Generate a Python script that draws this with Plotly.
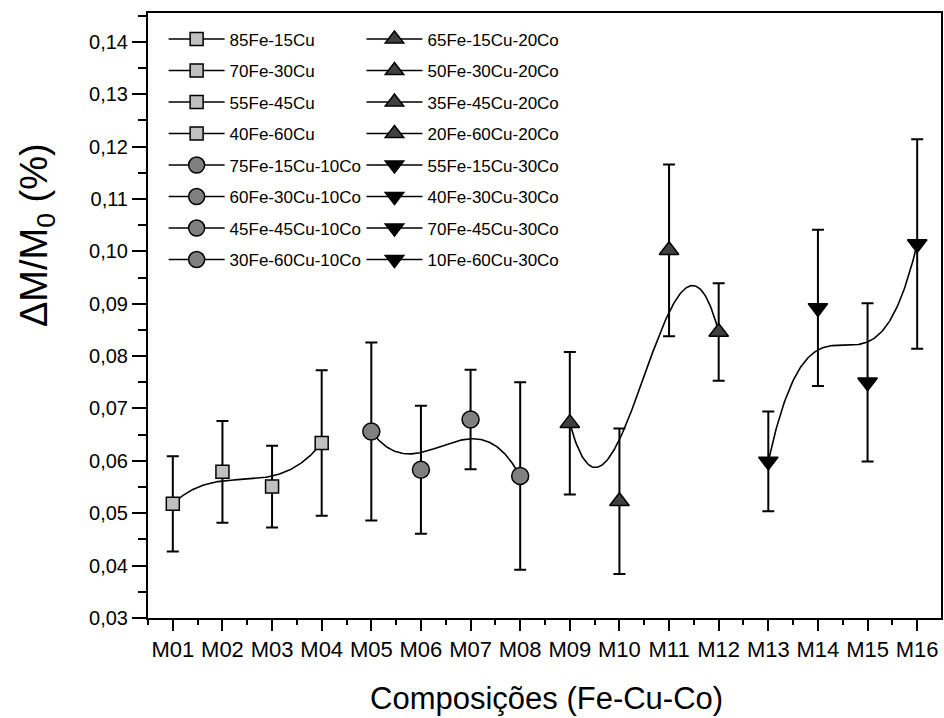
import numpy as np
import plotly.graph_objects as go

# Sample codes on the x axis
samples = ["M01", "M02", "M03", "M04", "M05", "M06", "M07", "M08",
           "M09", "M10", "M11", "M12", "M13", "M14", "M15", "M16"]

# Nominal composition of each sample (legend text)
compositions = ["85Fe-15Cu", "70Fe-30Cu", "55Fe-45Cu", "40Fe-60Cu",
                "75Fe-15Cu-10Co", "60Fe-30Cu-10Co", "45Fe-45Cu-10Co", "30Fe-60Cu-10Co",
                "65Fe-15Cu-20Co", "50Fe-30Cu-20Co", "35Fe-45Cu-20Co", "20Fe-60Cu-20Co",
                "55Fe-15Cu-30Co", "40Fe-30Cu-30Co", "70Fe-45Cu-30Co", "10Fe-60Cu-30Co"]

# Relative mass change (%) and its standard deviation
mass_change = [0.0518, 0.0579, 0.0551, 0.0634,
               0.0656, 0.0583, 0.0679, 0.0571,
               0.0672, 0.0523, 0.1002, 0.0846,
               0.0599, 0.0892, 0.0750, 0.1014]
mass_change_err = [0.0091, 0.0097, 0.0078, 0.0139,
                   0.0170, 0.0122, 0.0095, 0.0179,
                   0.0136, 0.0139, 0.0164, 0.0093,
                   0.0095, 0.0149, 0.0151, 0.0200]

# Cobalt series: 0, 10, 20 and 30 % Co, four samples each
series_size = 4

x_pos = np.arange(1, len(samples) + 1)

# Marker style per cobalt series
series_styles = [
    dict(symbol="square", size=13, color="#c0c0c0"),
    dict(symbol="circle", size=17, color="#808080"),
    dict(symbol="triangle-up", size=17, color="#404040"),
    dict(symbol="triangle-down", size=17, color="#000000"),
]


def smooth_curve(xs, ys, tension=0.65, n=160):
    """Cubic Bezier through the end points, with the inner data points
    pushed away from their neighbours' mean as control points."""
    y0, y1, y2, y3 = ys
    c1 = y1 + tension * (y1 - (y0 + y2) / 2)
    c2 = y2 + tension * (y2 - (y1 + y3) / 2)
    t = np.linspace(0, 1, n)
    b0, b1, b2, b3 = (1 - t) ** 3, 3 * (1 - t) ** 2 * t, 3 * (1 - t) * t ** 2, t ** 3
    xx = b0 * xs[0] + b1 * xs[1] + b2 * xs[2] + b3 * xs[3]
    yy = b0 * y0 + b1 * c1 + b2 * c2 + b3 * y3
    return xx, yy


fig = go.Figure()

# Smoothed trend line for each series
for g in range(len(samples) // series_size):
    sl = slice(g * series_size, (g + 1) * series_size)
    cx, cy = smooth_curve(x_pos[sl], mass_change[sl])
    fig.add_trace(go.Scatter(
        x=cx, y=cy, mode="lines", showlegend=False, hoverinfo="skip",
        line=dict(color="black", width=1.6),
    ))

# One trace per sample, with its error bar and legend entry
for i, name in enumerate(compositions):
    g = i // series_size
    st = series_styles[g]
    fig.add_trace(go.Scatter(
        x=[x_pos[i]], y=[mass_change[i]], name=name,
        mode="lines+markers",
        legend="legend" if g < 2 else "legend2",
        legendgroup=name,
        line=dict(color="black", width=1.6),
        marker=dict(symbol=st["symbol"], size=st["size"], color=st["color"],
                    line=dict(color="black", width=1.5)),
        error_y=dict(type="data", array=[mass_change_err[i]], visible=True,
                     color="black", thickness=2, width=6),
    ))

legend_common = dict(
    orientation="v", yanchor="top", xanchor="left",
    bgcolor="rgba(0,0,0,0)", borderwidth=0,
    font=dict(family="Liberation Sans, Arial, sans-serif", size=17, color="black"),
    itemwidth=56, tracegroupgap=6.4, itemclick=False,
)

fig.update_layout(
    width=944, height=718,
    margin=dict(l=148, r=1, t=13, b=100),
    paper_bgcolor="white", plot_bgcolor="white",
    separators=",.",
    font=dict(family="Liberation Sans, Arial, sans-serif", color="black"),
    legend=dict(x=0.0197, y=0.986, **legend_common),
    legend2=dict(x=0.2692, y=0.986, **legend_common),
    xaxis=dict(
        range=[0.5, 16.48], tickmode="array", tickvals=x_pos, ticktext=samples,
        showline=True, linecolor="black", linewidth=2, mirror=True,
        ticks="outside", ticklen=11, tickwidth=2, tickcolor="black",
        tickfont=dict(size=22), showgrid=False, zeroline=False,
        minor=dict(tickmode="array", tickvals=list(x_pos[:-1] + 0.5) + [0.5],
                   ticks="outside", ticklen=5, tickwidth=2, tickcolor="black",
                   showgrid=False),
    ),
    yaxis=dict(
        range=[0.03, 0.1455], tickmode="linear", tick0=0.03, dtick=0.01,
        tickformat=".2f",
        showline=True, linecolor="black", linewidth=2, mirror=True,
        ticks="outside", ticklen=14, tickwidth=2, tickcolor="black",
        tickfont=dict(size=20), showgrid=False, zeroline=False,
        minor=dict(dtick=0.005, ticks="outside", ticklen=8, tickwidth=2,
                   tickcolor="black", showgrid=False),
    ),
    annotations=[
        dict(text="ΔM/M<sub>0</sub> (%)", xref="paper", yref="paper",
             x=-0.14, y=0.633, xanchor="center", yanchor="middle",
             textangle=-90, showarrow=False, font=dict(size=38)),
        dict(text="Composições (Fe-Cu-Co)", xref="paper", yref="paper",
             x=0.503, y=-0.133, xanchor="center", yanchor="middle",
             showarrow=False, font=dict(size=31)),
    ],
)

fig.write_html("out.html")
